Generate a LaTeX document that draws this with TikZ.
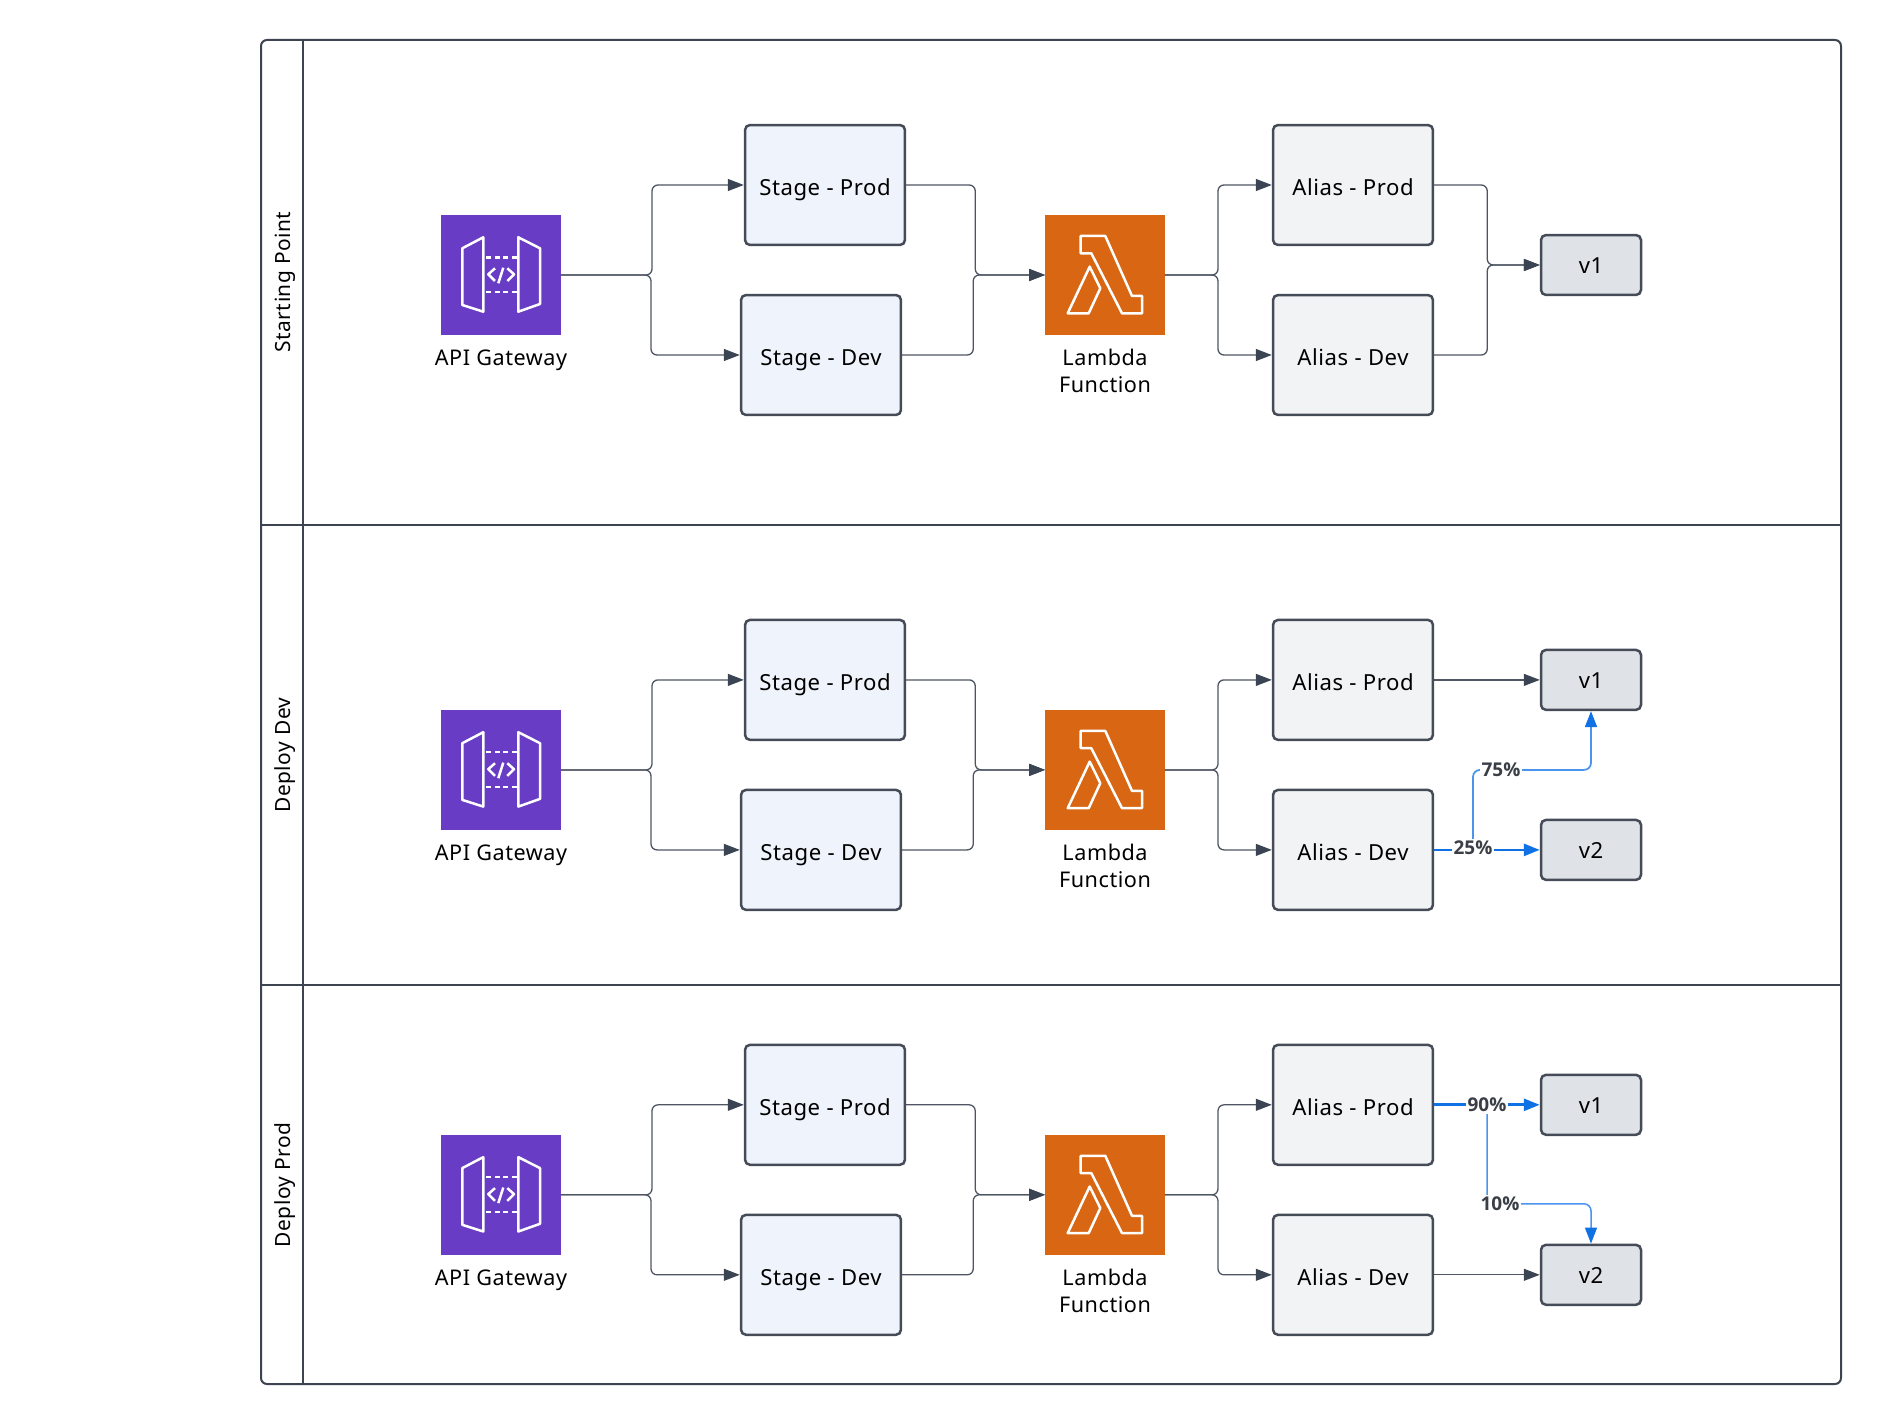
\documentclass[tikz,border=0pt]{standalone}
\usepackage{fontspec}
\setmainfont{Noto Sans}[LetterSpace=2.5]
\newfontfamily\pctFont{Open Sans}[BoldFont={Open Sans Bold}]
\usetikzlibrary{arrows.meta}
\definecolor{frameLine}{HTML}{3D4450}
\definecolor{boxLine}{HTML}{454C58}
\definecolor{connLine}{HTML}{4F5663}
\definecolor{arrowDark}{HTML}{3B4452}
\definecolor{stageFill}{HTML}{EFF3FB}
\definecolor{aliasFill}{HTML}{F2F3F5}
\definecolor{versionFill}{HTML}{DFE2E7}
\definecolor{apiPurple}{HTML}{693CC5}
\definecolor{lambdaOrange}{HTML}{D86613}
\definecolor{trafficBlue}{HTML}{1071E5}
\definecolor{trafficLight}{HTML}{4A94EE}
\definecolor{pctText}{HTML}{3A3F47}
\tikzset{
   stage node/.style={rectangle,rounded corners=0.1cm,draw=boxLine,line width=0.05cm,fill=stageFill,minimum width=3.2cm,minimum height=2.4cm,text height=12pt,text depth=0pt,font=\fontsize{12.6}{15}\selectfont},
   alias node/.style={stage node,fill=aliasFill},
   version node/.style={stage node,fill=versionFill,minimum width=2cm,minimum height=1.2cm,text height=10pt},
   icon node/.style={rectangle,minimum width=2.4cm,minimum height=2.4cm,inner sep=0pt,outer sep=0pt},
   caption node/.style={align=center,font=\fontsize{12.3}{15}\selectfont,inner sep=0pt},
   lane node/.style={rotate=90,font=\fontsize{11.9}{15}\selectfont,inner sep=0pt},
   pct node/.style={fill=white,inner sep=1pt,text=pctText,font=\pctFont\fontsize{10.8}{12}\bfseries\selectfont},
   conn/.style={draw=connLine,line width=0.026cm,rounded corners=0.12cm,-{Triangle[length=0.32cm,width=0.24cm,color=arrowDark]}},
   traffic heavy/.style={draw=trafficBlue,line width=0.055cm,-{Triangle[length=0.32cm,width=0.24cm,color=trafficBlue]}},
   traffic light/.style={draw=trafficLight,line width=0.035cm,rounded corners=0.14cm,-{Triangle[length=0.32cm,width=0.24cm,color=trafficBlue]}},
   icon line/.style={draw=white,line width=0.05cm,line join=round}
}
\newcommand{\apiGatewayIcon}{
  \draw[icon line] (-38.7,-26.7) -- (-17.7,-37.7) -- (-17.7,36.7) -- (-38.7,30) -- cycle;
  \draw[icon line] (17.3,-37.7) -- (39,-26.7) -- (39,29) -- (17.3,36.7) -- cycle;
  \draw[icon line,dash pattern=on 0.1cm off 0.07cm] (-15,-17.7) -- (16,-17.7);
  \draw[icon line,dash pattern=on 0.1cm off 0.07cm] (-15,17) -- (16,17);
  \draw[icon line] (-6,-6.7) -- (-12.7,-0.7) -- (-6,6);
  \draw[icon line] (6.3,-6.7) -- (13,-0.7) -- (6.3,6);
  \draw[icon line] (2.3,-7.3) -- (-2.7,8.3);
}
\newcommand{\lambdaIcon}{
  \draw[icon line] (-24.3,-39) -- (0.3,-39) -- (27,21) -- (37,21) -- (37,38.3) -- (17,38.3) -- (-13.7,-21.7) -- (-24.3,-21.7) -- cycle;
  \draw[icon line] (-15.3,-8.3) -- (-4.7,13.3) -- (-16.3,38.3) -- (-37.3,38.3) -- cycle;
}
% what every lane has in common
\newcommand{\laneCommon}{
  \node[icon node,fill=apiPurple] (api) at (501,275) {};
  \begin{scope}[shift={(501,275)}] \apiGatewayIcon \end{scope}
  \node[caption node] (apiText) at (501,360.5) {API Gateway};
  \node[stage node] (stageProd) at (825,185) {Stage - Prod};
  \node[stage node] (stageDev) at (821,355) {Stage - Dev};
  \node[icon node,fill=lambdaOrange] (lambda) at (1105,275) {};
  \begin{scope}[shift={(1105,275)}] \lambdaIcon \end{scope}
  \node[caption node] (lambdaText) at (1105,371) {Lambda\\Function};
  \node[alias node] (aliasProd) at (1353,185) {Alias - Prod};
  \node[alias node] (aliasDev) at (1353,355) {Alias - Dev};
  \draw[conn] (api.east) -- ++(91,0) |- (stageProd.west);
  \draw[conn] (api.east) -- ++(90,0) |- (stageDev.west);
  \draw[conn] (stageProd.east) -- ++(69,0) |- (lambda.west);
  \draw[conn] (stageDev.east) -- ++(71,0) |- (lambda.west);
  \draw[conn] (lambda.east) -- ++(53,0) |- (aliasProd.west);
  \draw[conn] (lambda.east) -- ++(53,0) |- (aliasDev.west);
}

\begin{document}
\begin{tikzpicture}[x=0.02cm,y=-0.02cm]
\useasboundingbox (0,0) rectangle (1881,1425);

% swimlanes
\draw[frameLine,line width=0.04cm,rounded corners=0.12cm] (261,40) rectangle (1841,1384);
\draw[frameLine,line width=0.04cm] (303,40) -- (303,1384);
\draw[frameLine,line width=0.04cm] (261,525) -- (1841,525);
\draw[frameLine,line width=0.04cm] (261,985) -- (1841,985);
\node[lane node] (laneStart) at (285,282) {Starting Point};
\node[lane node] (laneDev) at (285,755) {Deploy Dev};
\node[lane node] (laneProd) at (285,1185) {Deploy Prod};

% starting point
\begin{scope}[name prefix=a-]
\laneCommon
\node[version node] (v1) at (1591,265) {v1};
\draw[conn] (aliasProd.east) -- ++(53,0) |- (v1.west);
\draw[conn] (aliasDev.east) -- ++(53,0) |- (v1.west);
\end{scope}

% deploy dev
\begin{scope}[yshift=-9.9cm,name prefix=b-]
\laneCommon
\node[version node] (v1) at (1591,185) {v1};
\node[version node] (v2) at (1591,355) {v2};
\draw[conn] (aliasProd.east) -- (v1.west);
\draw[traffic light] (aliasDev.east) -- (1473,355) -- (1473,275) -| (v1.south);
\draw[traffic heavy] (aliasDev.east) -- (v2.west);
\node[pct node] (pctA) at (1473,353) {25\%};
\node[pct node] (pctB) at (1501,275) {75\%};
\end{scope}

% deploy prod
\begin{scope}[yshift=-18.4cm,name prefix=c-]
\laneCommon
\node[version node] (v1) at (1591,185) {v1};
\node[version node] (v2) at (1591,355) {v2};
\draw[conn] (aliasDev.east) -- (v2.west);
\draw[traffic light,line width=0.03cm] (aliasProd.east) -- (1487,185) -- (1487,284) -| (v2.north);
\draw[traffic heavy] (aliasProd.east) -- (v1.west);
\node[pct node] (pctA) at (1487,185) {90\%};
\node[pct node] (pctB) at (1500,284) {10\%};
\end{scope}

\end{tikzpicture}
\end{document}
